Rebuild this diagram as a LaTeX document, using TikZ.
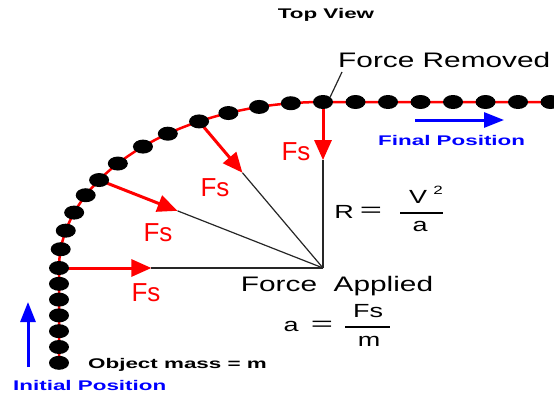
\documentclass[tikz,border=0pt]{standalone}
\usepackage{fontspec}
\setmainfont{Liberation Sans}
\usepackage{graphicx}
\usetikzlibrary{arrows.meta, calc, shapes.geometric, backgrounds}

\newcommand{\widetext}[1]{\scalebox{1.42}[1]{#1}}
\newcommand{\boldwide}[1]{\scalebox{1.6}[1]{#1}}

\tikzset{
  track/.style={red, line width=2.5pt},
  dot/.style={ellipse, fill=black, inner sep=0pt, minimum width=20pt, minimum height=14pt},
  force/.style={red, line width=3pt, -{Triangle[length=20pt,width=17pt]}},
  ray/.style={black!85, line width=1.2pt},
  move/.style={blue, line width=3pt, -{Triangle[length=20pt,width=15pt]}},
  big/.style={inner sep=0pt, font=\fontsize{21}{24}\selectfont},
  eq/.style={inner sep=0pt, font=\fontsize{19}{22}\selectfont},
  tag/.style={inner sep=0pt, font=\bfseries\fontsize{14}{16}\selectfont},
  fs/.style={red, inner sep=0pt, font=\fontsize{26}{28}\selectfont},
}

\begin{document}
\begin{tikzpicture}[x=1pt, y=-1pt]
\useasboundingbox (0,0) rectangle (554,396);
\coordinate (C) at (323,268);
% Dots along the path
\foreach \a [count=\i] in {180,173.5,167,160.5,154,148,141,133,126,118,111,104,97,90}
  \node[dot] (d\i) at ({323+264*cos(\a)}, {268-166*sin(\a)}) {};
\foreach \k in {1,...,6}
  \node[dot] (s\k) at (59, 268+15.8*\k) {};
\foreach \k in {1,...,7}
  \node[dot] (e\k) at (323+32.5*\k, 102) {};
% Track, radii and forces
\begin{scope}[on background layer]
  \draw[track] (s6.center) -- (d1.center)
    -- plot[domain=180:90, samples=60] ({323+264*cos(\x)}, {268-166*sin(\x)})
    -- (554,102);
  \foreach \n/\t in {d1/t1, d6/t2, d10/t3, d14/t4} {
    \coordinate (\t) at ($(\n)!0.35!(C)$);
    \draw[ray] (\t) -- (C);
    \draw[force] (\n.center) -- (\t);
  }
\end{scope}
% Fs labels
\foreach \x/\y [count=\i] in {146/293, 158/233, 215/188, 296/152}
  \node[fs] (fs\i) at (\x,\y) {Fs};
% Top labels
\node[tag, anchor=base] (top) at (326,19) {\boldwide{Top View}};
\node[big, anchor=base west] (removed) at (338,67) {\widetext{Force Removed}};
\coordinate (lead) at (342,72);
\draw[ray] (lead) -- (d14.north east);
\coordinate (f0) at (415,120);
\coordinate (f1) at (504,120);
\draw[move] (f0) -- (f1);
\node[tag, blue, anchor=base west] (final) at (378,145) {\boldwide{Final Position}};
% Radius
\node[eq] (R) at (344,212) {\widetext{R}};
\node[eq] (eqR) at (371,212) {\scalebox{2}[1]{=}};
\node[eq] (V) at (418,197) {\widetext{V}};
\node[inner sep=0pt, font=\fontsize{12}{14}\selectfont] (two) at (438,190) {\widetext{2}};
\node[eq] (den) at (420,226) {\widetext{a}};
\draw[line width=2pt] (400,213) -- (443,213);
% Acceleration
\node[big, anchor=base] (applied) at (337,291) {\widetext{Force\ \ Applied}};
\node[eq] (acc) at (291,326) {\widetext{a}};
\node[eq] (eqA) at (322,326) {\scalebox{2}[1]{=}};
\node[eq] (num) at (368,311) {\widetext{Fs}};
\node[eq] (mass) at (369,341) {\widetext{m}};
\draw[line width=2pt] (345,327) -- (390,327);
% Start
\coordinate (i0) at (28,367);
\coordinate (i1) at (28,302);
\draw[move] (i0) -- (i1);
\node[tag, anchor=base west] (object) at (88,368) {\boldwide{Object mass = m}};
\node[tag, blue, anchor=base west] (initial) at (13,390) {\boldwide{Initial Position}};
\end{tikzpicture}
\end{document}
